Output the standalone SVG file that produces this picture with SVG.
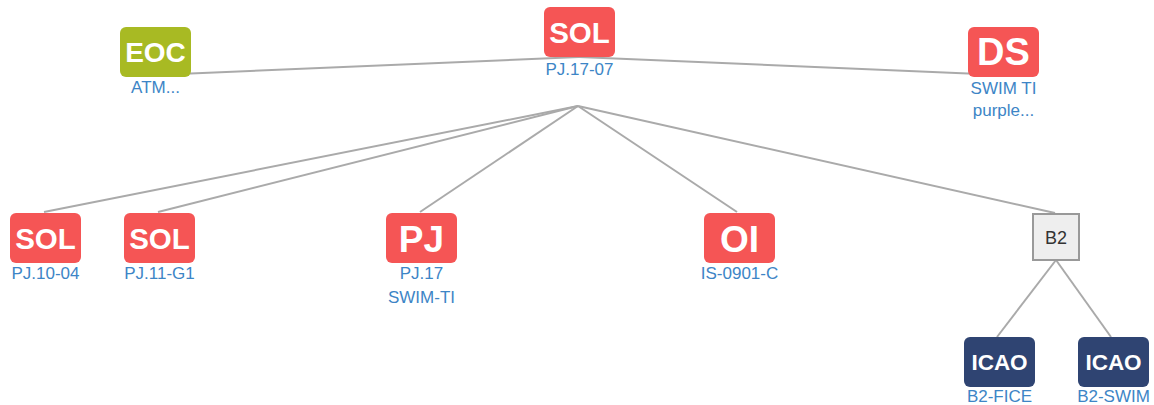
<svg xmlns="http://www.w3.org/2000/svg" width="1154" height="405" viewBox="0 0 1154 405">
<style>
.edge{stroke:#aaaaaa;stroke-width:2;fill:none}
.red{fill:#f55555}
.green{fill:#a8ba23}
.navy{fill:#2f4472}
.bt{font-family:"Liberation Sans",Arial,sans-serif;font-weight:bold;fill:#ffffff;text-anchor:middle}
.lbl{font-family:"Liberation Sans",Arial,sans-serif;font-size:17px;fill:#3d85c6;text-anchor:middle}
.sq{fill:#eeeeee;stroke:#999999;stroke-width:2}
.sqt{font-family:"Liberation Sans",Arial,sans-serif;font-size:18px;fill:#333333;text-anchor:middle}
</style>
<rect width="1154" height="405" fill="#ffffff"/>
<g id="connectors">
<line class="edge" x1="155" y1="75" x2="579" y2="57"/>
<line class="edge" x1="579" y1="57" x2="1003" y2="75"/>
<line class="edge" x1="578" y1="106" x2="44" y2="212"/>
<line class="edge" x1="578" y1="106" x2="158" y2="212"/>
<line class="edge" x1="578" y1="106" x2="420" y2="212"/>
<line class="edge" x1="578" y1="106" x2="737" y2="212"/>
<line class="edge" x1="578" y1="106" x2="1055" y2="213"/>
<line class="edge" x1="1056" y1="260" x2="997" y2="337"/>
<line class="edge" x1="1056" y1="260" x2="1111" y2="337"/>
</g>
<g id="node-eoc">
<rect class="green" x="120" y="27" width="71" height="50" rx="6"/>
<text class="bt" x="155.5" y="62" font-size="28">EOC</text>
<text class="lbl" x="155.5" y="93">ATM...</text>
</g>
<g id="node-sol-top">
<rect class="red" x="544" y="7" width="71" height="50" rx="6"/>
<text class="bt" x="579.5" y="42.5" font-size="29.5">SOL</text>
<text class="lbl" x="579.5" y="75">PJ.17-07</text>
</g>
<g id="node-ds">
<rect class="red" x="968" y="27" width="71" height="50" rx="6"/>
<text class="bt" x="1003.5" y="65" font-size="38">DS</text>
<text class="lbl" x="1003.5" y="94">SWIM TI</text>
<text class="lbl" x="1003.5" y="116">purple...</text>
</g>
<g id="node-sol-1004">
<rect class="red" x="10" y="213" width="71" height="50" rx="6"/>
<text class="bt" x="45.5" y="248.5" font-size="29.5">SOL</text>
<text class="lbl" x="45.5" y="279">PJ.10-04</text>
</g>
<g id="node-sol-11g1">
<rect class="red" x="124" y="213" width="71" height="50" rx="6"/>
<text class="bt" x="159.5" y="248.5" font-size="29.5">SOL</text>
<text class="lbl" x="159.5" y="279">PJ.11-G1</text>
</g>
<g id="node-pj">
<rect class="red" x="386" y="213" width="71" height="50" rx="6"/>
<text class="bt" x="421.5" y="251.5" font-size="37">PJ</text>
<text class="lbl" x="421.5" y="279">PJ.17</text>
<text class="lbl" x="421.5" y="303">SWIM-TI</text>
</g>
<g id="node-oi">
<rect class="red" x="704" y="213" width="71" height="50" rx="6"/>
<text class="bt" x="739.5" y="251.5" font-size="37">OI</text>
<text class="lbl" x="739.5" y="279">IS-0901-C</text>
</g>
<g id="node-b2">
<rect class="sq" x="1033" y="214" width="46" height="46"/>
<text class="sqt" x="1056" y="243.5">B2</text>
</g>
<g id="node-icao-fice">
<rect class="navy" x="964" y="337" width="71" height="50" rx="6"/>
<text class="bt" x="999.5" y="370" font-size="22.5">ICAO</text>
<text class="lbl" x="999.5" y="402">B2-FICE</text>
</g>
<g id="node-icao-swim">
<rect class="navy" x="1078" y="337" width="71" height="50" rx="6"/>
<text class="bt" x="1113.5" y="370" font-size="22.5">ICAO</text>
<text class="lbl" x="1113.5" y="402">B2-SWIM</text>
</g>
</svg>
